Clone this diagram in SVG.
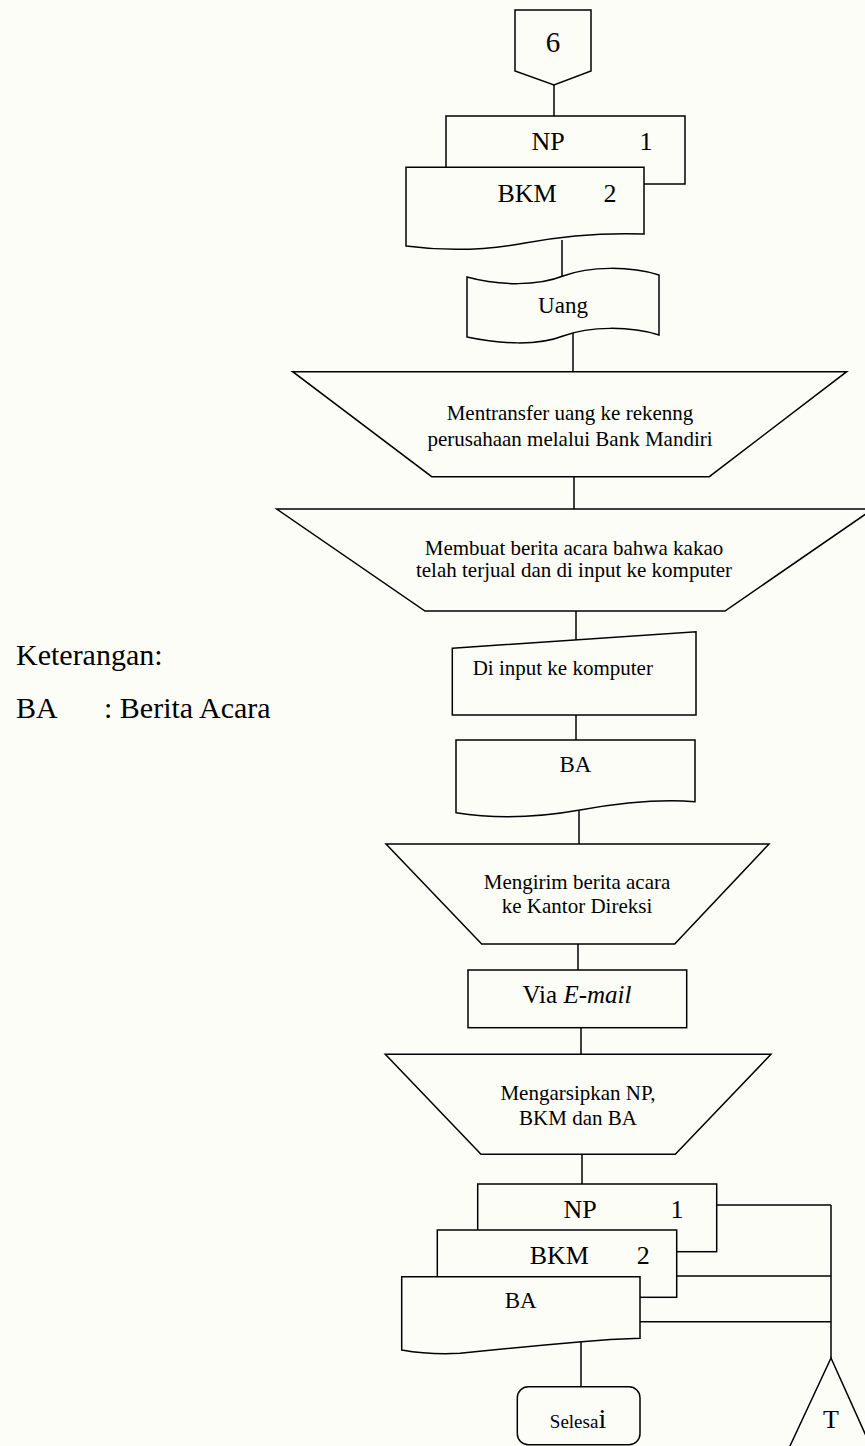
<svg xmlns="http://www.w3.org/2000/svg" width="865" height="1446" viewBox="0 0 865 1446">
  <style>
    .shape { fill: #fdfdf8; stroke: #000; stroke-width: 1.5; stroke-linejoin: miter; }
    .line { fill: none; stroke: #000; stroke-width: 1.5; }
    .t { font-family: "Liberation Serif", "Times New Roman", serif; fill: #000; text-anchor: middle; }
    .s21 { font-size: 21px; }
    .s23 { font-size: 23px; }
    .s26 { font-size: 26px; }
    .legend { font-family: "Liberation Serif", "Times New Roman", serif; font-size: 30px; fill: #000; }
  </style>

  <rect x="0" y="0" width="865" height="1446" fill="#fdfdf8"/>

  <!-- connectors -->
  <g id="connectors" class="line">
    <line x1="554" y1="85" x2="554" y2="116"/>
    <line x1="562" y1="240" x2="562" y2="277"/>
    <line x1="573" y1="333" x2="573" y2="372"/>
    <line x1="574" y1="477" x2="574" y2="509"/>
    <line x1="576" y1="611" x2="576" y2="640"/>
    <line x1="576" y1="715" x2="576" y2="740"/>
    <line x1="579" y1="808" x2="579" y2="844"/>
    <line x1="578" y1="944" x2="578" y2="970"/>
    <line x1="581" y1="1028" x2="581" y2="1054"/>
    <line x1="582" y1="1154" x2="582" y2="1184"/>
    <line x1="581" y1="1342" x2="581" y2="1387"/>
    <line x1="716.7" y1="1205" x2="831" y2="1205"/>
    <line x1="676.7" y1="1276" x2="831" y2="1276"/>
    <line x1="640" y1="1321.7" x2="831" y2="1321.7"/>
    <line x1="831" y1="1205" x2="831" y2="1358"/>
  </g>

  <!-- off-page connector 6 -->
  <g id="offpage-6">
    <polygon class="shape" points="515,10 591,10 591,71 554,85 515,71"/>
    <text class="t" x="553" y="52" font-size="29">6</text>
  </g>

  <!-- NP / BKM documents (top) -->
  <g id="doc-np-top">
    <rect class="shape" x="446" y="116" width="239" height="68"/>
    <text class="t s26" x="548" y="150">NP</text>
    <text class="t s26" x="646" y="150">1</text>
  </g>
  <g id="doc-bkm-top">
    <path class="shape" d="M406,167.3 H644 V234 Q584,232 525,243 Q466,254 406,246 Z"/>
    <text class="t s26" x="527" y="202">BKM</text>
    <text class="t s26" x="610" y="202">2</text>
  </g>

  <!-- Uang punched tape -->
  <g id="tape-uang">
    <path class="shape" d="M467,277 C500,286 538,286 563,276 C590,266 630,266 659,275 V335 C630,326 590,326 563,336 C538,346 500,344 467,337 Z"/>
    <text class="t s23" x="563" y="313">Uang</text>
  </g>

  <!-- manual operation: transfer -->
  <g id="op-transfer">
    <polygon class="shape" points="292.7,371.7 846.7,371.7 709.3,476.7 431.7,476.7"/>
    <text class="t s21" x="570" y="420">Mentransfer uang ke rekenng</text>
    <text class="t s21" x="570" y="446">perusahaan melalui Bank Mandiri</text>
  </g>

  <!-- manual operation: berita acara -->
  <g id="op-berita-acara">
    <polygon class="shape" points="276.7,509 873,509 725,611 425,611"/>
    <text class="t s21" x="574" y="555">Membuat berita acara bahwa kakao</text>
    <text class="t s21" x="574" y="577">telah terjual dan di input ke komputer</text>
  </g>

  <!-- manual input -->
  <g id="input-komputer">
    <polygon class="shape" points="452.3,648.3 696,631.7 696,715 452.3,715"/>
    <text class="t s21" x="472.7" y="675" style="text-anchor:start">Di input ke komputer</text>
  </g>

  <!-- BA document -->
  <g id="doc-ba">
    <path class="shape" d="M456,740 H695 V801.7 Q647,798 580,810 Q513,822 456,812.7 Z"/>
    <text class="t s23" x="575.5" y="772">BA</text>
  </g>

  <!-- manual operation: send -->
  <g id="op-kirim">
    <polygon class="shape" points="386,844 769,844 674.7,944 481.7,944"/>
    <text class="t s21" x="577" y="889">Mengirim berita acara</text>
    <text class="t s21" x="577" y="913">ke Kantor Direksi</text>
  </g>

  <!-- Via E-mail -->
  <g id="via-email">
    <rect class="shape" x="468" y="970" width="218.7" height="57.7"/>
    <text class="t" x="577" y="1003" font-size="25">Via <tspan font-style="italic">E-mail</tspan></text>
  </g>

  <!-- manual operation: archive -->
  <g id="op-arsip">
    <polygon class="shape" points="385.3,1054.3 771,1054.3 675.3,1154.3 481,1154.3"/>
    <text class="t s21" x="578" y="1100">Mengarsipkan NP,</text>
    <text class="t s21" x="578" y="1125">BKM dan BA</text>
  </g>

  <!-- archived documents -->
  <g id="doc-np-bottom">
    <rect class="shape" x="477.7" y="1184" width="239" height="67.7"/>
    <text class="t s26" x="580" y="1218">NP</text>
    <text class="t s26" x="677" y="1218">1</text>
  </g>
  <g id="doc-bkm-bottom">
    <rect class="shape" x="437.3" y="1230" width="239.4" height="67.3"/>
    <text class="t s26" x="559.3" y="1264">BKM</text>
    <text class="t s26" x="643.3" y="1264">2</text>
  </g>
  <g id="doc-ba-bottom">
    <path class="shape" d="M401.7,1276.7 H640 V1338.3 Q610,1339 581.7,1341.7 Q520,1347 460,1353.3 Q430,1355 401.7,1350 Z"/>
    <text class="t s23" x="520.7" y="1308">BA</text>
  </g>

  <!-- terminator -->
  <g id="end-selesai">
    <rect class="shape" x="517.3" y="1386.7" width="122.7" height="58" rx="11" ry="11"/>
    <text class="t" x="578" y="1428" font-size="19">Selesa<tspan font-size="28">i</tspan></text>
  </g>

  <!-- off-line storage T -->
  <g id="storage-t">
    <polygon class="shape" points="831,1358 784.4,1458 876,1458"/>
    <text class="t s26" x="831" y="1428">T</text>
  </g>

  <!-- legend -->
  <g id="legend">
    <text class="legend" x="16" y="665">Keterangan:</text>
    <text class="legend" x="16" y="718">BA</text>
    <text class="legend" x="104" y="718">: Berita Acara</text>
  </g>
</svg>
